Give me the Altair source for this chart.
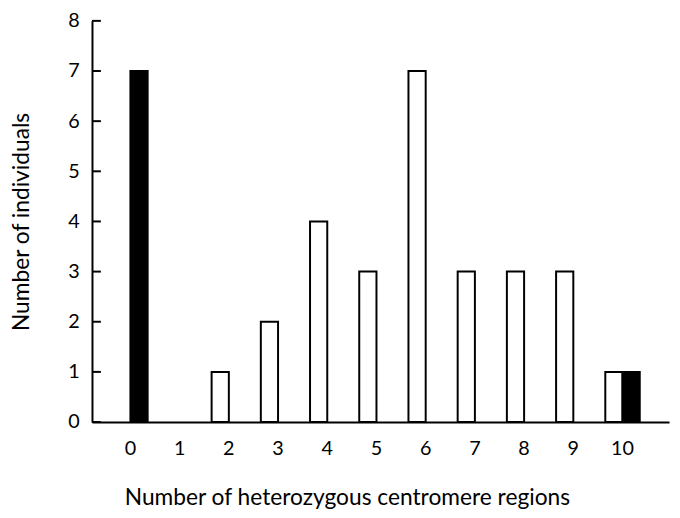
import altair as alt
import pandas as pd

categories = ["0", "1", "2", "3", "4", "5", "6", "7", "8", "9", "10"]
white_counts = [0, 0, 1, 2, 4, 3, 7, 3, 3, 3, 1]
black_counts = [7, 0, 0, 0, 0, 0, 0, 0, 0, 0, 1]
y_ticks = [0, 1, 2, 3, 4, 5, 6, 7, 8]

rows = []
for c, w, b in zip(categories, white_counts, black_counts):
    if w > 0:
        rows.append({"cat": c, "series": "white", "count": w})
    if b > 0:
        rows.append({"cat": c, "series": "black", "count": b})
df = pd.DataFrame(rows)
ticks_df = pd.DataFrame({"v": y_ticks})

FONT = "Lato"

x_scale = alt.Scale(domain=categories, paddingInner=0.3, paddingOuter=0.513, align=0.42)
y_scale = alt.Scale(domain=[0, 8], nice=False, zero=True)

bars = alt.Chart(df).mark_bar(stroke="black", strokeWidth=2).encode(
    x=alt.X("cat:N", scale=x_scale, sort=categories,
            axis=alt.Axis(title="Number of heterozygous centromere regions", labelAngle=0,
                          ticks=False, labelPadding=17, titlePadding=28,
                          titleX=258, titleAlign="center", titleAnchor="start",
                          labelFontSize=20, titleFontSize=23, labelFont=FONT, titleFont=FONT,
                          labelColor="black", titleColor="black", titleFontWeight="normal",
                          domainColor="black", domainWidth=2)),
    xOffset=alt.XOffset("series:N", sort=["white", "black"], scale=alt.Scale(domain=["white", "black"], paddingInner=0, paddingOuter=0)),
    y=alt.Y("count:Q", scale=y_scale,
            axis=alt.Axis(title="Number of individuals", values=y_ticks, ticks=False,
                          labelPadding=13, titlePadding=35, grid=False,
                          labelFontSize=20, titleFontSize=23, labelFont=FONT, titleFont=FONT,
                          labelColor="black", titleColor="black", titleFontWeight="normal",
                          domainColor="black", domainWidth=2)),
    fill=alt.Fill("series:N", scale=alt.Scale(domain=["white", "black"], range=["white", "black"]), legend=None),
)

tick_rules = alt.Chart(ticks_df).mark_rule(color="black", strokeWidth=2).encode(
    x=alt.value(0), x2=alt.value(9),
    y=alt.Y("v:Q", scale=y_scale),
)

chart = alt.layer(bars, tick_rules).properties(
    width=584, height=406,
    autosize=alt.AutoSizeParams(type="none"),
    padding={"left": 85, "top": 10, "right": 3, "bottom": 86},
    background="white",
).configure_view(stroke=None).configure_axis(grid=False)

chart.save("out.html", embed_options={"renderer": "svg", "actions": False})
